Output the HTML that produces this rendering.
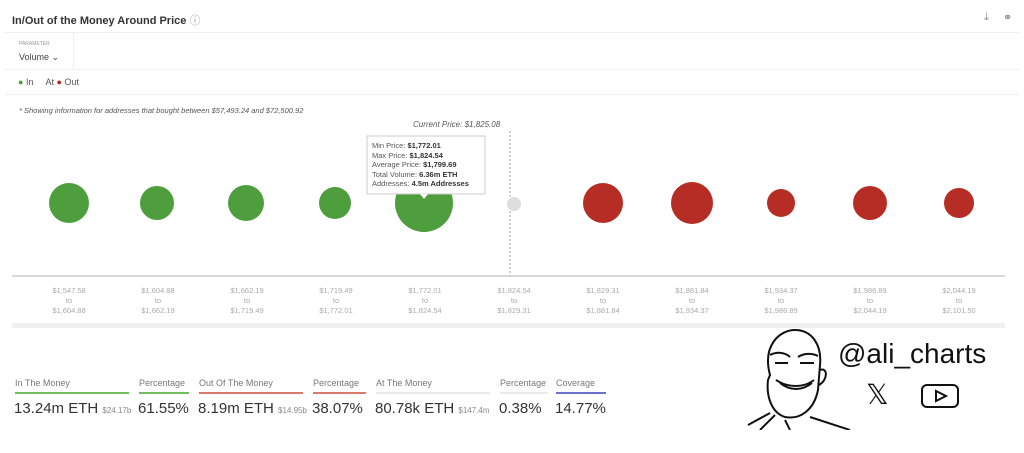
<!DOCTYPE html>
<html><head><style>
body{margin:0;width:1024px;height:453px;background:#fff;font-family:"Liberation Sans",sans-serif;position:relative;overflow:hidden}
.a{position:absolute;white-space:nowrap}
.lab{font-size:9px;color:#777}
.big{font-size:15px;color:#333}
.sm{font-size:8px;color:#888}
.bar{position:absolute;height:2px}
.tk{position:absolute;font-size:7.5px;color:#aaa;text-align:center;width:60px;line-height:10px}
</style></head><body>
<div class="a" style="left:12px;top:12px;font-size:11px;font-weight:bold;color:#333">In/Out of the Money Around Price <span style="font-weight:normal;color:#999">ⓘ</span></div>
<div class="a" style="left:984px;top:11px;font-size:11px;color:#888">⤓</div>
<div class="a" style="left:1003px;top:11px;font-size:11px;color:#888">⚭</div>
<div style="position:absolute;left:5px;right:5px;top:32px;height:1px;background:#f0f0f0"></div>
<div class="a" style="left:19px;top:41px;font-size:5px;color:#999">PARAMETER</div>
<div class="a" style="left:19px;top:52px;font-size:9px;color:#444">Volume ⌄</div>
<div style="position:absolute;left:73px;top:33px;width:1px;height:36px;background:#f0f0f0"></div>
<div style="position:absolute;left:5px;right:5px;top:69px;height:1px;background:#f0f0f0"></div>
<div class="a" style="left:18px;top:77px;font-size:9px;color:#555"><span style="color:#4f9e3e">●</span> In &nbsp;&nbsp;&nbsp; At <span style="color:#b52d24">●</span> Out</div>
<div style="position:absolute;left:5px;right:5px;top:94px;height:1px;background:#f0f0f0"></div>
<div class="a" style="left:19px;top:106px;font-size:7.5px;font-style:italic;color:#555">* Showing information for addresses that bought between $57,493.24 and $72,500.92</div>
<div class="a" style="left:413px;top:120px;font-size:8px;font-style:italic;color:#555">Current Price: $1,825.08</div>
<svg class="a" style="left:0;top:0" width="1024" height="453">
<line x1="510" y1="131" x2="510" y2="278" stroke="#999" stroke-dasharray="2,2"/>
<line x1="12" y1="276" x2="1005" y2="276" stroke="#ccc" stroke-width="1.5"/>
<g fill="#4f9e3e">
<circle cx="69" cy="203" r="20"/><circle cx="157" cy="203" r="17"/><circle cx="246" cy="203" r="18"/><circle cx="335" cy="203" r="16"/><circle cx="424" cy="203" r="29"/></g>
<circle cx="514" cy="204" r="7" fill="#ddd"/>
<g fill="#b52d24">
<circle cx="603" cy="203" r="20"/><circle cx="692" cy="203" r="21"/><circle cx="781" cy="203" r="14"/><circle cx="870" cy="203" r="17"/><circle cx="959" cy="203" r="15"/></g>
<rect x="12" y="323" width="993" height="5" fill="#f0f0f0"/>
<rect x="367" y="136" width="118" height="58" fill="#fff" stroke="#ccc"/>
<path d="M420 194 L424 199 L428 194Z" fill="#fff"/>
</svg>
<div class="a" style="left:372px;top:141px;font-size:7.5px;color:#555;line-height:9.5px">Min Price: <b style="color:#333">$1,772.01</b><br>Max Price: <b style="color:#333">$1,824.54</b><br>Average Price: <b style="color:#333">$1,799.69</b><br>Total Volume: <b style="color:#333">6.36m ETH</b><br>Addresses: <b style="color:#333">4.5m Addresses</b></div>
<div class="tk" style="left:39px;top:286px">$1,547.58<br>to<br>$1,604.88</div>
<div class="tk" style="left:128px;top:286px">$1,604.88<br>to<br>$1,662.19</div>
<div class="tk" style="left:217px;top:286px">$1,662.19<br>to<br>$1,719.49</div>
<div class="tk" style="left:306px;top:286px">$1,719.49<br>to<br>$1,772.01</div>
<div class="tk" style="left:395px;top:286px">$1,772.01<br>to<br>$1,824.54</div>
<div class="tk" style="left:484px;top:286px">$1,824.54<br>to<br>$1,829.31</div>
<div class="tk" style="left:573px;top:286px">$1,829.31<br>to<br>$1,881.84</div>
<div class="tk" style="left:662px;top:286px">$1,881.84<br>to<br>$1,934.37</div>
<div class="tk" style="left:751px;top:286px">$1,934.37<br>to<br>$1,986.89</div>
<div class="tk" style="left:840px;top:286px">$1,986.89<br>to<br>$2,044.19</div>
<div class="tk" style="left:929px;top:286px">$2,044.19<br>to<br>$2,101.50</div>

<div class="a lab" style="left:15px;top:378px">In The Money</div>
<div class="bar" style="left:15px;top:392px;width:114px;background:#6fbf60"></div>
<div class="a big" style="left:14px;top:400px">13.24m ETH <span class="sm">$24.17b</span></div>
<div class="a lab" style="left:139px;top:378px">Percentage</div>
<div class="bar" style="left:139px;top:392px;width:50px;background:#6fbf60"></div>
<div class="a big" style="left:138px;top:400px">61.55%</div>
<div class="a lab" style="left:199px;top:378px">Out Of The Money</div>
<div class="bar" style="left:199px;top:392px;width:104px;background:#d97a6c"></div>
<div class="a big" style="left:198px;top:400px">8.19m ETH <span class="sm">$14.95b</span></div>
<div class="a lab" style="left:313px;top:378px">Percentage</div>
<div class="bar" style="left:313px;top:392px;width:53px;background:#d97a6c"></div>
<div class="a big" style="left:312px;top:400px">38.07%</div>
<div class="a lab" style="left:376px;top:378px">At The Money</div>
<div class="bar" style="left:376px;top:392px;width:114px;background:#e8e8e8"></div>
<div class="a big" style="left:375px;top:400px">80.78k ETH <span class="sm">$147.4m</span></div>
<div class="a lab" style="left:500px;top:378px">Percentage</div>
<div class="bar" style="left:500px;top:392px;width:48px;background:#e8e8e8"></div>
<div class="a big" style="left:499px;top:400px">0.38%</div>
<div class="a lab" style="left:556px;top:378px">Coverage</div>
<div class="bar" style="left:556px;top:392px;width:50px;background:#6a6fd0"></div>
<div class="a big" style="left:555px;top:400px">14.77%</div>

<svg class="a" style="left:740px;top:325px" width="110" height="105" fill="none" stroke="#111" stroke-width="2">
<path d="M30 50 C22 20 40 5 55 5 C72 5 82 20 80 40 L78 65 C74 85 60 95 45 92 C32 88 26 72 28 55 Z"/>
<path d="M80 45 C88 42 88 55 79 60"/>
<path d="M30 30 C38 26 46 28 50 32 M58 32 C64 28 72 28 78 31"/>
<path d="M35 38 L48 38 M60 38 L74 38"/>
<path d="M36 55 C48 63 64 63 74 55 M40 58 C50 66 62 66 72 58"/>
<path d="M35 90 L20 105 M70 92 L110 105 M45 95 L50 105 M8 100 L30 88"/>
</svg>
<div class="a" style="left:838px;top:338px;font-size:28px;color:#111">@ali_charts</div>
<div class="a" style="left:866px;top:378px;font-size:28px;color:#111">𝕏</div>
<svg class="a" style="left:920px;top:383px" width="40" height="28"><rect x="2" y="2" width="36" height="22" rx="5" fill="none" stroke="#111" stroke-width="2"/><path d="M16 8 L26 13 L16 18Z" fill="none" stroke="#111" stroke-width="2"/></svg>
</body></html>
